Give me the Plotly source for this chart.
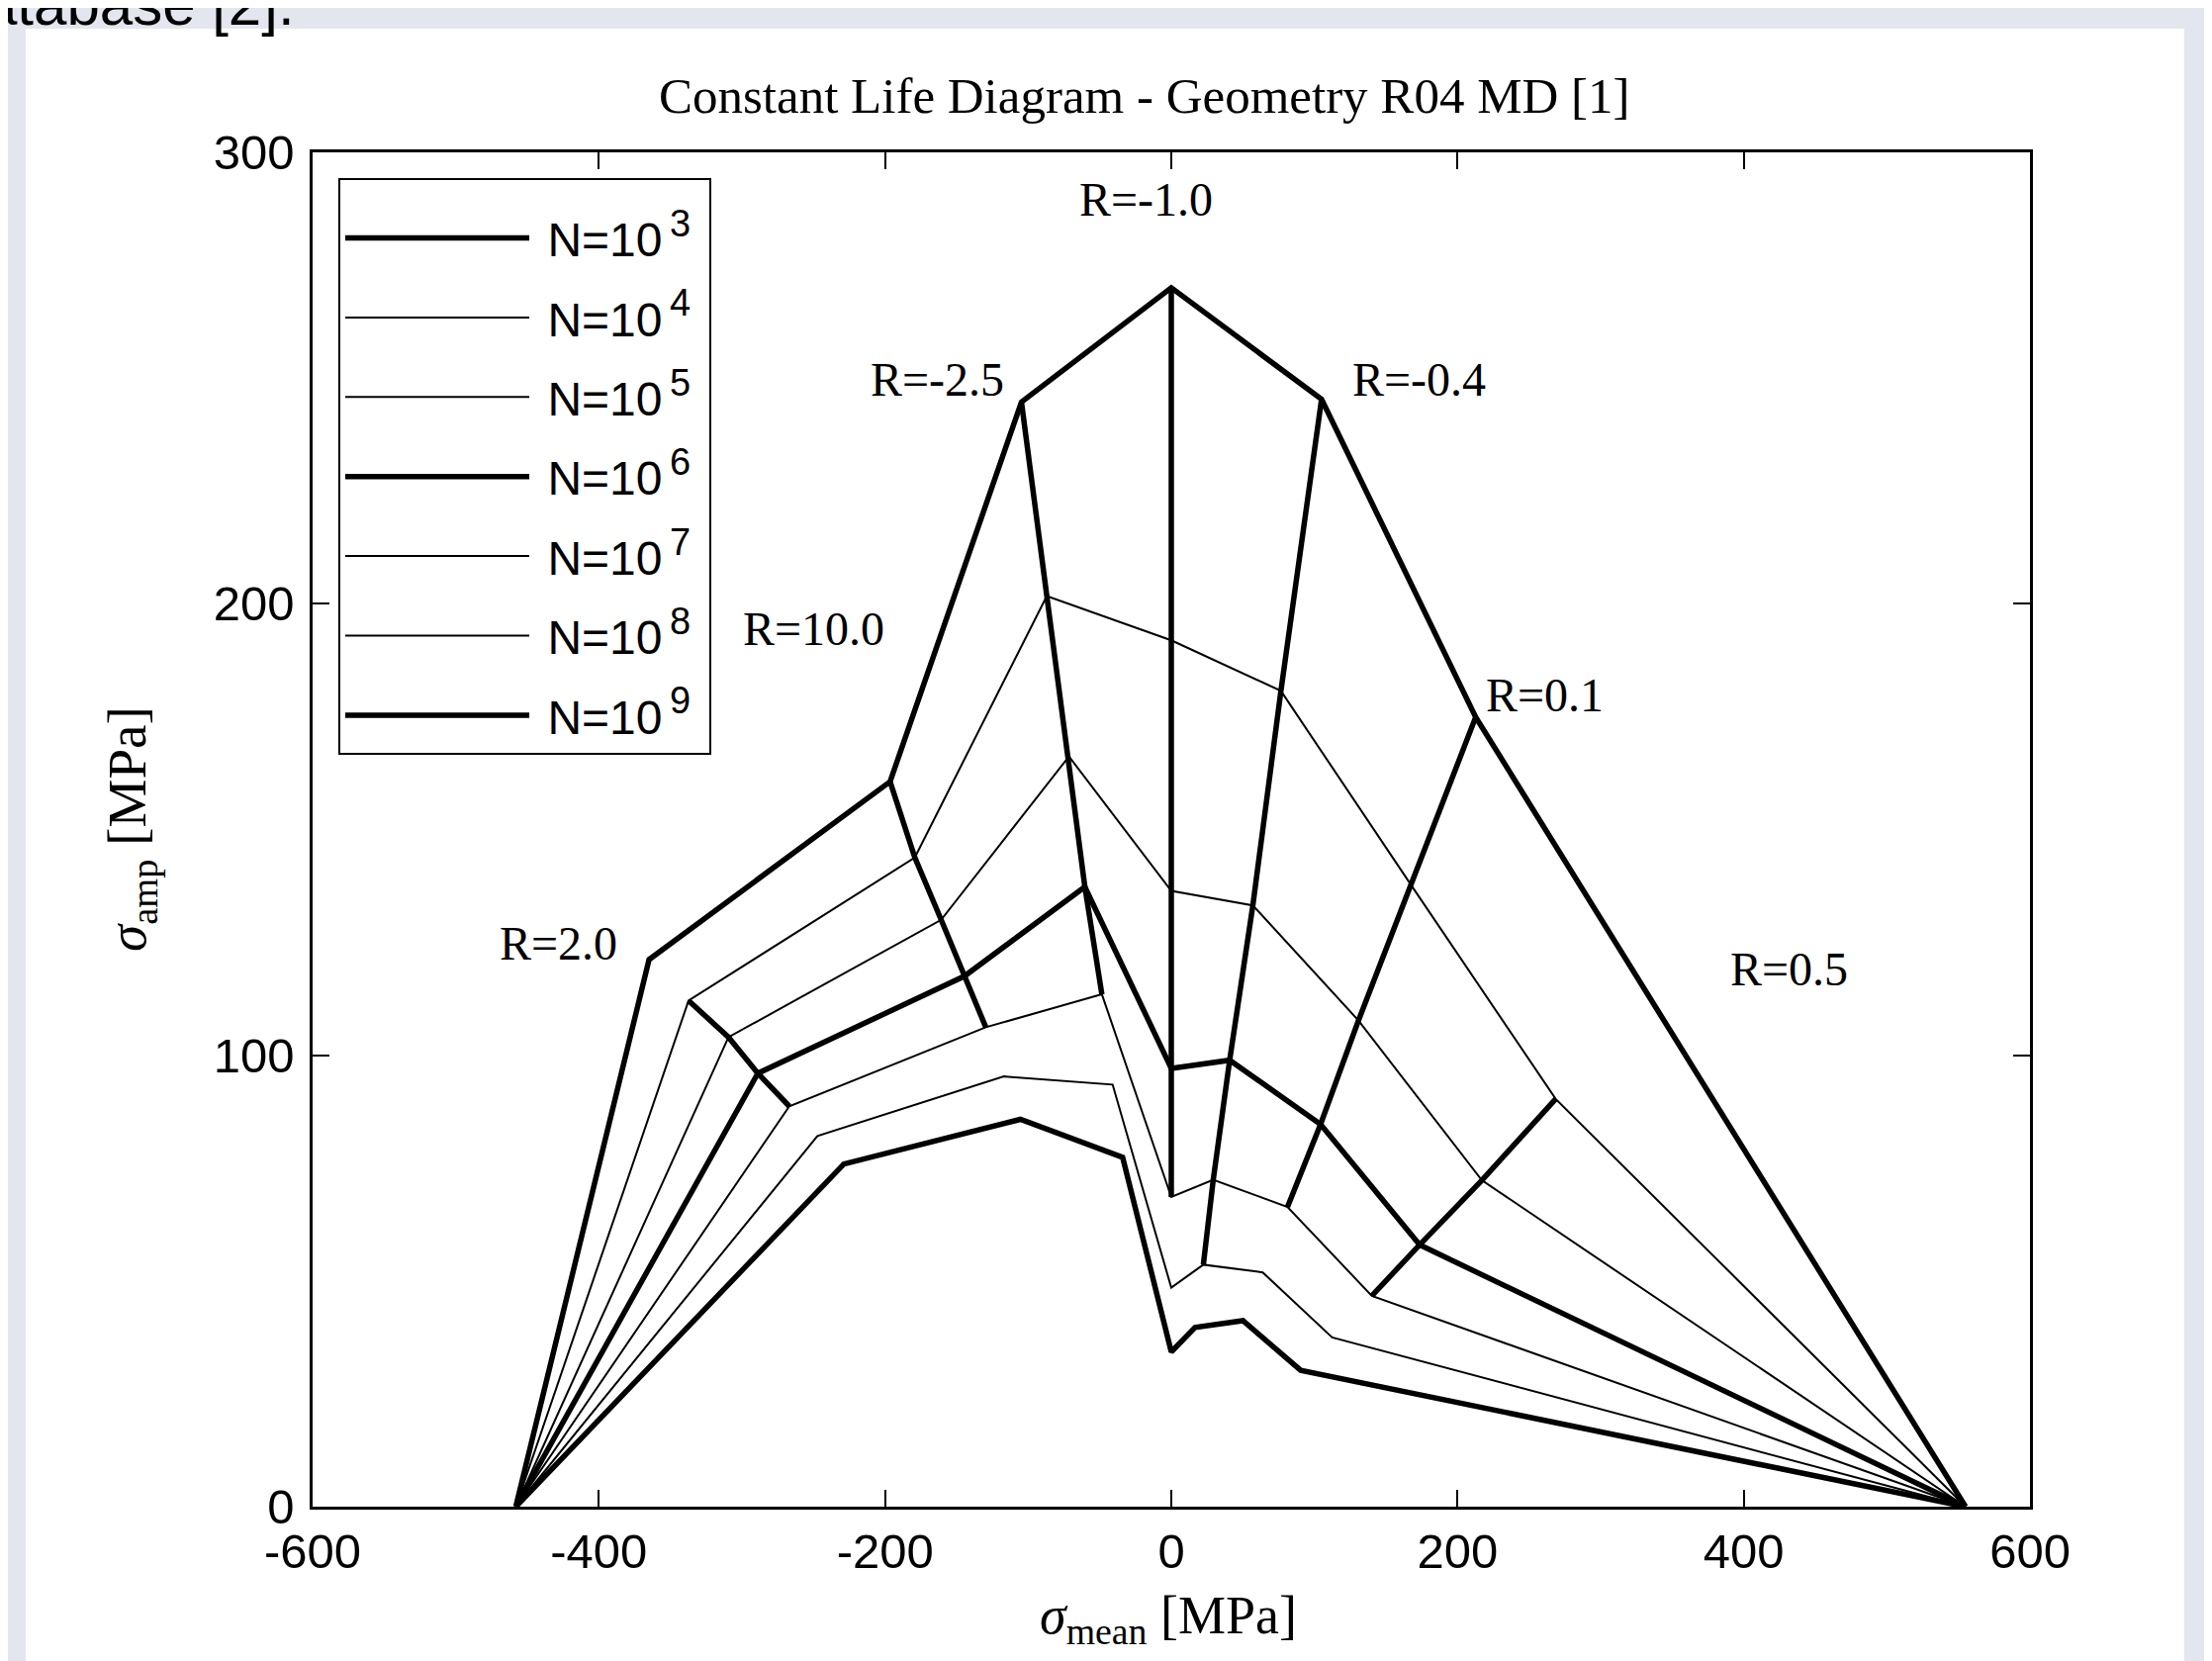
import plotly.graph_objects as go

# ---------------- data ----------------
r_ratio_labels = ["R=2.0", "R=10.0", "R=-2.5", "R=-1.0", "R=-0.4", "R=0.1", "R=0.5"]
n_exponents = [3, 4, 5, 6, 7, 8, 9]

ucs_mean = -458.0   # common left end point (amp = 0)
uts_mean = 555.0    # common right end point (amp = 0)

# mean / amplitude stress of each constant-life line, in the R order above
mean_n3 = [-364.9, -196.5, -104.7, 0.0, 105.0, 212.7, None]
amp_n3 = [121.2, 160.6, 244.7, 270.0, 245.3, 174.9, None]
mean_n4 = [-337.3, -179.2, -87.0, 0.0, 76.6, 167.8, 268.6]
amp_n4 = [112.1, 143.8, 201.7, 191.9, 180.7, 137.6, 90.3]
mean_n5 = [-309.4, -160.8, -71.5, 0.0, 57.0, 130.8, 217.0]
amp_n5 = [104.0, 130.0, 166.2, 136.4, 133.2, 107.7, 72.3]
mean_n6 = [-288.9, -144.6, -60.4, 0.0, 40.8, 104.3, 173.5]
amp_n6 = [96.0, 117.5, 137.3, 97.1, 98.9, 84.7, 58.0]
mean_n7 = [-266.9, -129.6, -48.5, 0.0, 29.3, 81.2, 140.1]
amp_n7 = [88.7, 106.2, 113.5, 68.6, 72.4, 66.4, 46.7]
mean_n8 = [-247.3, -117.0, -41.0, 0.0, 22.4, 63.9, 112.4]
amp_n8 = [82.1, 95.3, 93.5, 48.5, 53.6, 51.9, 37.5]
mean_n9 = [-228.8, -105.4, -34.0, 0.0, 16.6, 50.1, 90.4]
amp_n9 = [75.9, 85.8, 77.4, 34.3, 39.7, 41.2, 30.2]

# which constant-life lines each R line spans (first / last exponent)
ray_first_exp = [4, 3, 3, 3, 3, 3, 4]
ray_last_exp = [7, 7, 7, 7, 8, 7, 7]

# R label positions (data coordinates)
label_mean = [-428.5, -249.7, -163.2, -17.5, 173.0, 261.0, 432.0]
label_amp = [124.7, 194.4, 249.7, 289.6, 249.7, 179.8, 119.2]

x_ticks = [-600, -400, -200, 0, 200, 400, 600]
x_tick_text = ["-600", "-400", "-200", "0", "200", "400", "600"]
y_ticks = [0, 100, 200, 300]
y_tick_text = ["0", "100", "200", "300"]

# ---------------- figure ----------------
means = [mean_n3, mean_n4, mean_n5, mean_n6, mean_n7, mean_n8, mean_n9]
amps = [amp_n3, amp_n4, amp_n5, amp_n6, amp_n7, amp_n8, amp_n9]
thick_exps = {3, 6, 9}
THICK, THIN = 5.5, 2.0

fig = go.Figure()

for e, mx, ay in zip(n_exponents, means, amps):
    xs = [ucs_mean] + [m for m in mx if m is not None] + [uts_mean]
    ys = [0.0] + [a for a in ay if a is not None] + [0.0]
    fig.add_trace(go.Scatter(
        x=xs, y=ys, mode="lines",
        name='\u00a0N=10<sup><span style="font-size:38px">\u2009' + str(e) + '</span></sup>\u00a0',
        legendgroup=f"n{e}",
        line=dict(color="black", width=THICK if e in thick_exps else THIN),
        hoverinfo="skip",
    ))

for ri, lab in enumerate(r_ratio_labels):
    xs, ys = [], []
    for e, mx, ay in zip(n_exponents, means, amps):
        if ray_first_exp[ri] <= e <= ray_last_exp[ri] and mx[ri] is not None:
            xs.append(mx[ri])
            ys.append(ay[ri])
    fig.add_trace(go.Scatter(
        x=xs, y=ys, mode="lines", name=lab, showlegend=False,
        line=dict(color="black", width=THICK), hoverinfo="skip",
    ))

serif = "Liberation Serif, Times New Roman, serif"
sans = "Liberation Sans, Arial, sans-serif"

annotations = []
for lab, lx, ly in zip(r_ratio_labels, label_mean, label_amp):
    annotations.append(dict(x=lx, y=ly, xref="x", yref="y", text=lab, showarrow=False,
                            font=dict(family=serif, size=48, color="black"),
                            xanchor="center", yanchor="middle"))

# title and axis titles
annotations.append(dict(x=0.4844, y=1.0416, xref="paper", yref="paper",
                        text="Constant Life Diagram - Geometry R04 MD [1]", showarrow=False,
                        font=dict(family=serif, size=51, color="black"),
                        xanchor="center", yanchor="middle"))
annotations.append(dict(x=-0.1054, y=0.5004, xref="paper", yref="paper",
                        text="<i>σ</i><sub>amp</sub> [MPa]", showarrow=False, textangle=-90,
                        font=dict(family=serif, size=55, color="black"),
                        xanchor="center", yanchor="middle"))
annotations.append(dict(x=0.498, y=-0.083, xref="paper", yref="paper",
                        text="<i>σ</i><sub>mean</sub> [MPa]", showarrow=False,
                        font=dict(family=serif, size=54, color="black"),
                        xanchor="center", yanchor="middle"))
# cut-off slide text at top-left
annotations.append(dict(x=-0.009, y=1.1093, xref="paper", yref="paper",
                        text="atabase [2].", showarrow=False,
                        font=dict(family=sans, size=60, color="black"),
                        xanchor="right", yanchor="middle"))

axis_common = dict(
    showline=True, linecolor="black", linewidth=2.5, mirror="ticks",
    ticks="inside", ticklen=17, tickwidth=1.5, tickcolor="black",
    showgrid=False, zeroline=False,
    tickfont=dict(family=sans, size=49, color="black"),
)

fig.update_layout(
    width=2236, height=1679,
    # the page body adds an 8 px offset; margins compensate for it
    margin=dict(l=308, r=192, t=146, b=164),
    paper_bgcolor="#e3e6ee", plot_bgcolor="white",
    xaxis=dict(range=[-600, 600], tickvals=x_ticks, ticktext=x_tick_text,
               ticklabelstandoff=0, **axis_common),
    yaxis=dict(range=[0, 300], tickvals=y_ticks, ticktext=y_tick_text,
               ticklabelstandoff=6, **axis_common),
    showlegend=True,
    legend=dict(x=0.015, y=0.981, xanchor="left", yanchor="top",
                bgcolor="white", bordercolor="black", borderwidth=2,
                font=dict(family=sans, size=48, color="black"),
                title=dict(text="\u00a0", font=dict(family=sans, size=16)),
                itemwidth=186, tracegroupgap=15),
    annotations=annotations,
    shapes=[dict(type="rect", xref="paper", yref="paper",
                 x0=-0.167, x1=1.0898, y0=-0.2, y1=1.0913,
                 fillcolor="white", line=dict(width=0), layer="below")],
)

fig.write_html("out.html")
